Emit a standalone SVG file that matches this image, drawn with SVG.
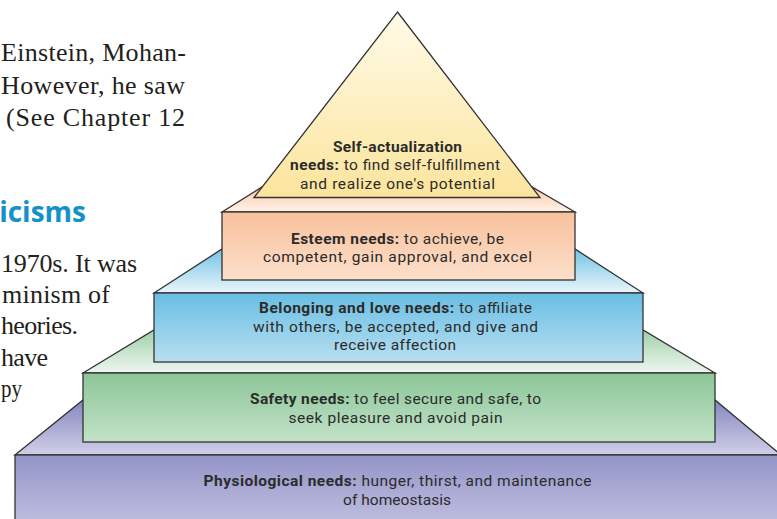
<svg xmlns="http://www.w3.org/2000/svg" width="777" height="519" viewBox="0 0 777 519">
<defs>
<linearGradient id="gTri" x1="0" y1="0" x2="0" y2="1"><stop offset="0" stop-color="#fffbe8"/><stop offset="1" stop-color="#fbe49c"/></linearGradient>
<linearGradient id="gEstF" x1="0" y1="0" x2="0" y2="1"><stop offset="0" stop-color="#f8c19c"/><stop offset="1" stop-color="#fddfcb"/></linearGradient>
<linearGradient id="gEstT" x1="0" y1="0" x2="0" y2="1"><stop offset="0" stop-color="#f9c9a9"/><stop offset="1" stop-color="#fff3ea"/></linearGradient>
<linearGradient id="gBluF" x1="0" y1="0" x2="0" y2="1"><stop offset="0" stop-color="#69bee3"/><stop offset="1" stop-color="#b8dff0"/></linearGradient>
<linearGradient id="gBluT" x1="0" y1="0" x2="0" y2="1"><stop offset="0" stop-color="#72c3e5"/><stop offset="1" stop-color="#eaf6fb"/></linearGradient>
<linearGradient id="gGrnF" x1="0" y1="0" x2="0" y2="1"><stop offset="0" stop-color="#8cc698"/><stop offset="1" stop-color="#c2e2c8"/></linearGradient>
<linearGradient id="gGrnT" x1="0" y1="0" x2="0" y2="1"><stop offset="0" stop-color="#9fd0a8"/><stop offset="1" stop-color="#eff7f0"/></linearGradient>
<linearGradient id="gPurF" x1="0" y1="0" x2="0" y2="1"><stop offset="0" stop-color="#9494c8"/><stop offset="1" stop-color="#c6c6e4"/></linearGradient>
<linearGradient id="gPurT" x1="0" y1="0" x2="0" y2="1"><stop offset="0" stop-color="#8686c0"/><stop offset="1" stop-color="#cfcfe8"/></linearGradient>
</defs>
<style>
.edge{stroke:#333333;stroke-width:1.3;stroke-linejoin:miter}
.lbl{font-family:Roboto,"Liberation Sans",sans-serif;font-size:15.5px;fill:#2b2b2b;text-anchor:middle}
.b{font-weight:700}
.body{font-family:"Liberation Serif","DejaVu Serif",serif;font-size:26px;fill:#231f20}
.head{font-family:"Open Sans","Noto Sans","Liberation Sans",sans-serif;font-size:28px;font-weight:700;fill:#1591c9}
</style>

<g id="page-text">
<text class="body" x="186" y="61" text-anchor="end" textLength="185">Einstein, Mohan-</text>
<text class="body" x="185" y="94" text-anchor="end" textLength="184">However, he saw</text>
<text class="body" x="185" y="126" text-anchor="end" textLength="179">(See Chapter 12</text>
<text class="head" x="86" y="222" text-anchor="end">icisms</text>
<text class="body" x="137" y="272" text-anchor="end" textLength="136">1970s. It was</text>
<text class="body" x="110" y="303" text-anchor="end" textLength="108">minism of</text>
<text class="body" x="78" y="334" text-anchor="end" textLength="77">heories.</text>
<text class="body" x="48" y="366" text-anchor="end" textLength="47">have</text>
<text class="body" x="1" y="397" textLength="21" lengthAdjust="spacingAndGlyphs">py</text>
</g>

<g id="physiological">
<polygon class="edge" points="15,455 83,400 715,400 781,455" fill="url(#gPurT)"/>
<rect class="edge" x="15" y="455" width="770" height="80" fill="url(#gPurF)"/>
<text class="lbl" x="397.5" y="486" textLength="388"><tspan class="b">Physiological needs:</tspan> hunger, thirst, and maintenance</text>
<text class="lbl" x="397" y="504.5" textLength="108">of homeostasis</text>
</g>

<g id="safety">
<polygon class="edge" points="83,373 154,330 643,330 715,373" fill="url(#gGrnT)"/>
<rect class="edge" x="83" y="373" width="632" height="69" fill="url(#gGrnF)"/>
<text class="lbl" x="395.5" y="404" textLength="291"><tspan class="b">Safety needs:</tspan> to feel secure and safe, to</text>
<text class="lbl" x="395.5" y="423" textLength="214">seek pleasure and avoid pain</text>
</g>

<g id="belonging">
<polygon class="edge" points="154,293 222,249 575,249 643,293" fill="url(#gBluT)"/>
<rect class="edge" x="154" y="293" width="489" height="69" fill="url(#gBluF)"/>
<text class="lbl" x="395.5" y="313" textLength="273"><tspan class="b">Belonging and love needs:</tspan> to affiliate</text>
<text class="lbl" x="395.5" y="331.7" textLength="285">with others, be accepted, and give and</text>
<text class="lbl" x="395" y="350.4" textLength="122">receive affection</text>
</g>

<g id="esteem">
<polygon class="edge" points="222,212 262,187 532,187 575,212" fill="url(#gEstT)"/>
<rect class="edge" x="222" y="212" width="353" height="68" fill="url(#gEstF)"/>
<text class="lbl" x="397.5" y="243.5" textLength="213"><tspan class="b">Esteem needs:</tspan> to achieve, be</text>
<text class="lbl" x="397.5" y="262.3" textLength="269">competent, gain approval, and excel</text>
</g>

<g id="self-actualization">
<polygon class="edge" points="397.5,12 540,197.5 254,197.5" fill="url(#gTri)"/>
<text class="lbl b" x="397.5" y="151.8" textLength="129">Self-actualization</text>
<text class="lbl" x="395" y="170.4" textLength="210"><tspan class="b">needs:</tspan> to find self-fulfillment</text>
<text class="lbl" x="397.5" y="189" textLength="195">and realize one's potential</text>
</g>

<g id="connectors"/>
</svg>
